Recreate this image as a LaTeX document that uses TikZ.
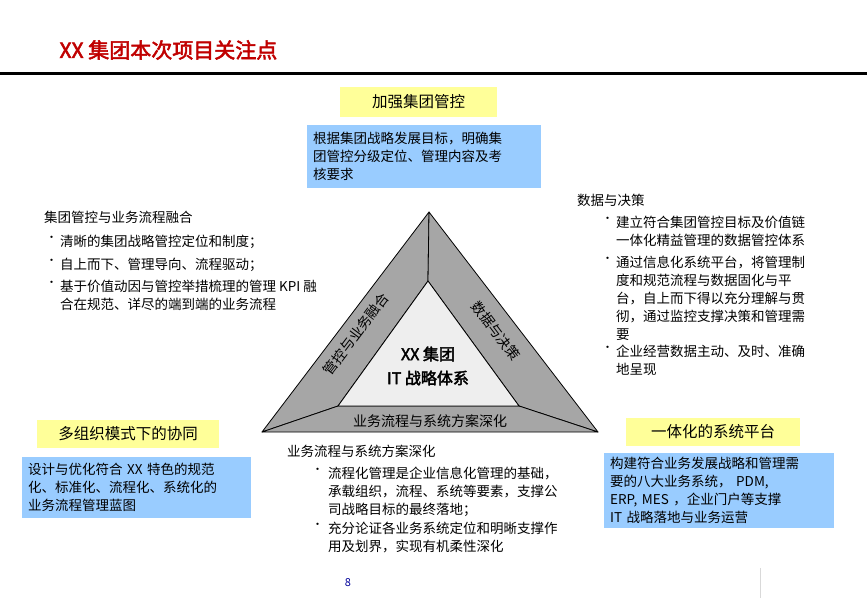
\documentclass[tikz,border=0pt]{standalone}
\usepackage{fontspec}
\setmainfont{Noto Sans CJK SC}
\newfontfamily\cjkb[FakeBold=2.5]{Noto Sans CJK SC}
\definecolor{yel}{HTML}{FFFF99}
\definecolor{blu}{HTML}{99CCFF}
\definecolor{tred}{HTML}{C00000}
\definecolor{band}{HTML}{A6A6A6}
\definecolor{core}{HTML}{EEEEEE}
\tikzset{x=1pt,y=-1pt,
 ybox/.style={fill=yel,inner sep=0pt,font=\fontsize{15.5}{18}\selectfont},
 bbox/.style={fill=blu,inner xsep=6pt,inner ysep=4pt,anchor=north west,align=left,font=\fontsize{13.5}{18}\selectfont},
 txt/.style={anchor=north west,align=left,inner sep=0pt,font=\fontsize{13.5}{18}\selectfont},
 dot/.style={anchor=north west,inner sep=0pt,font=\fontsize{11}{18}\selectfont},
 tri/.style={fill=band,draw=black,line width=0.8pt,line join=round}}
\begin{document}
\begin{tikzpicture}
\useasboundingbox (0,0) rectangle (867,600);
\node[anchor=west,text=tred,font=\cjkb\fontsize{21}{24}\selectfont] (title) at (56,50) {XX 集团本次项目关注点};
\draw[line width=3pt] (0,73) -- (867,73);
% triangle
\coordinate (A) at (429,212); \coordinate (L) at (262,432); \coordinate (R) at (598,432);
\coordinate (a) at (428,281); \coordinate (l) at (338,406); \coordinate (r) at (519,406);
\draw[tri] (A)--(a)--(l)--(L)--cycle;
\draw[tri] (A)--(a)--(r)--(R)--cycle;
\draw[tri] (L)--(l)--(r)--(R)--cycle;
\draw[fill=core,draw=black,line width=0.8pt] (a)--(l)--(r)--cycle;
\node[font=\cjkb\fontsize{16}{24}\selectfont,align=center] (core) at (428,366) {XX 集团\\IT 战略体系};
\node[font=\fontsize{14}{16}\selectfont,rotate=53] (lt) at (356,334) {管控与业务融合};
\node[font=\fontsize{14}{16}\selectfont,rotate=-53] (rt) at (496,331) {数据与决策};
\node[font=\fontsize{14}{16}\selectfont] (bt) at (430,421) {业务流程与系统方案深化};
% top
\node[ybox,minimum width=157,minimum height=30] (y1) at (418.5,102) {加强集团管控};
\node[bbox,text width=222,minimum height=63] (b1) at (307,125) {根据集团战略发展目标，明确集\\团管控分级定位、管理内容及考\\核要求};
% left
\node[txt] (lh) at (44,211) {集团管控与业务流程融合};
\node[dot] (ld1) at (46,236) {•}; \node[txt] (l1) at (60,235) {清晰的集团战略管控定位和制度；};
\node[dot] (ld2) at (46,259) {•}; \node[txt] (l2) at (60,258) {自上而下、管理导向、流程驱动；};
\node[dot] (ld3) at (46,281) {•}; \node[txt] (l3) at (60,280) {基于价值动因与管控举措梳理的管理 KPI 融\\合在规范、详尽的端到端的业务流程};
% right
\node[txt] (rh) at (577,194) {数据与决策};
\node[dot] (rd1) at (602,217) {•}; \node[txt] (r1) at (616,216) {建立符合集团管控目标及价值链\\一体化精益管理的数据管控体系};
\node[dot] (rd2) at (602,257) {•}; \node[txt] (r2) at (616,256) {通过信息化系统平台，将管理制\\度和规范流程与数据固化与平\\台，自上而下得以充分理解与贯\\彻，通过监控支撑决策和管理需\\要};
\node[dot] (rd3) at (602,346) {•}; \node[txt] (r3) at (616,345) {企业经营数据主动、及时、准确\\地呈现};
% bottom left
\node[ybox,minimum width=182,minimum height=28] (y2) at (128,434) {多组织模式下的协同};
\node[bbox,text width=217,minimum height=61] (b2) at (22,457) {设计与优化符合 XX 特色的规范\\化、标准化、流程化、系统化的\\业务流程管理蓝图};
% bottom right
\node[ybox,minimum width=174,minimum height=28] (y3) at (713,432) {一体化的系统平台};
\node[bbox,text width=218,minimum height=71] (b3) at (604,453) {构建符合业务发展战略和管理需\\要的八大业务系统， PDM,\\ERP, MES ，企业门户等支撑\\IT 战略落地与业务运营};
% bottom center
\node[txt] (bh) at (287,445) {业务流程与系统方案深化};
\node[dot] (bd1) at (312,468) {•}; \node[txt] (bl1) at (328,467) {流程化管理是企业信息化管理的基础，\\承载组织，流程、系统等要素，支撑公\\司战略目标的最终落地；};
\node[dot] (bd2) at (312,523) {•}; \node[txt] (bl2) at (328,522) {充分论证各业务系统定位和明晰支撑作\\用及划界，实现有机柔性深化};
\node[font=\fontsize{11}{12}\selectfont,text=blue!60!black] (pg) at (348,583) {8};
\draw[gray!30] (760,568) -- (760,598);
\end{tikzpicture}
\end{document}
